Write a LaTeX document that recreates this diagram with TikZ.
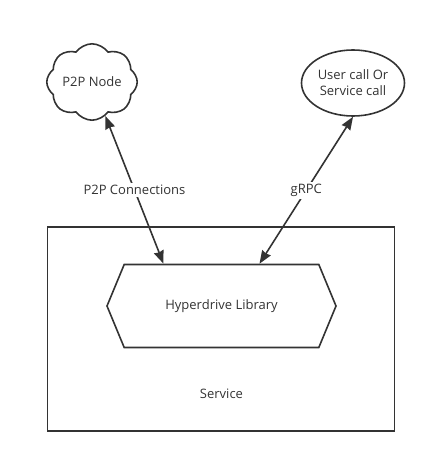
\documentclass[tikz,border=0pt]{standalone}
\usepackage{fontspec}
\setmainfont{Open Sans}
\usepackage{tikz}
\usetikzlibrary{
    positioning,      % For placing nodes relative to each other
    shapes.symbols,   % For the cloud and signal shapes
    shapes.geometric, % For the ellipse
    arrows.meta       % For the arrow tips
}

\begin{document}
\begin{tikzpicture}[
    x=1pt, y=-1pt,
    % Global style settings
    font=\fontsize{13}{16}\selectfont,
    % Style for all outlines
    outline/.style={
        draw=black!80,
        line width=1.6pt
    },
    % Style for the double arrows
    link_arrow/.style={
        draw=black!80,
        line width=1.6pt,
        {Stealth[length=13pt, width=10pt, inset=1pt]}-{Stealth[length=13pt, width=10pt, inset=1pt]}
    },
    % Style for the labels sitting on the arrows
    link_label/.style={
        fill=white,
        text=black!80,
        inner sep=2pt
    }
]
    % Fix the page to the reference size
    \useasboundingbox (0,0) rectangle (437,463);

    % 1. The service box and its library.
    \node[outline, minimum width=347pt, minimum height=204pt] (service) at (221,329) {};
    \node[outline, signal, signal to=west and east, signal pointer angle=135,
          minimum width=229pt, minimum height=83pt, text=black!80] (hyper) at (221.5,306) {Hyperdrive Library};
    \node[below=37pt of hyper, text=black!80] (service_label) {Service};

    % 2. The outside parties.
    \node[outline, cloud, cloud puffs=8, cloud puff arc=110, aspect=1.3,
          minimum width=90pt, minimum height=70pt, inner sep=0pt, text=black!80] (p2p) at (92,82) {P2P Node};
    \node[outline, ellipse, minimum width=103pt, minimum height=66pt, inner sep=1pt,
          align=center, text=black!80] (user) at (353,83) {User call Or\\Service call};

    % 3. The connections.
    \draw[link_arrow] (p2p) -- ([xshift=-58pt]hyper.north)
        node[midway, link_label] (p2p_label) {P2P Connections};
    \draw[link_arrow] (user.south) -- ([xshift=38pt]hyper.north)
        node[midway, link_label] (grpc_label) {gRPC};

\end{tikzpicture}
\end{document}
